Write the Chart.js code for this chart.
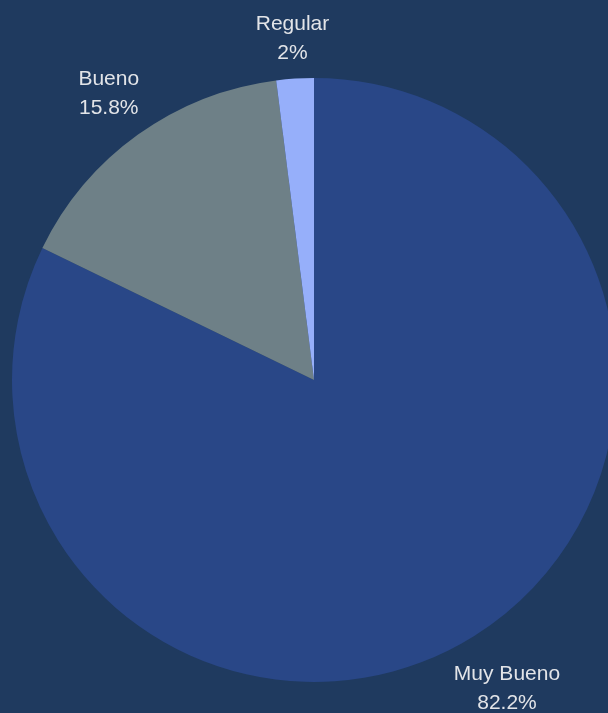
<!DOCTYPE html>
<html>
<head>
<meta charset="utf-8">
<script src="https://cdn.jsdelivr.net/npm/chart.js@4"></script>
<style>
  html, body { margin: 0; padding: 0; background: #1f3a5f; overflow: hidden; width: 608px; height: 713px; }
  canvas { display: block; }
</style>
</head>
<body>
<canvas id="pie-chart" width="628" height="713"></canvas>
<script>
// chart data
const labels = ["Muy Bueno", "Bueno", "Regular"];
const values = [82.2, 15.8, 2];
const colors = ["#294787", "#6e8087", "#96affa"];

// draws "label\nvalue%" outside each slice
const outsideLabels = {
  id: "outsideLabels",
  afterDatasetsDraw(chart) {
    const ctx = chart.ctx;
    const meta = chart.getDatasetMeta(0);
    ctx.save();
    ctx.font = "21px 'Liberation Sans', Arial, sans-serif";
    ctx.fillStyle = "#e2e4e8";
    ctx.textAlign = "center";
    ctx.textBaseline = "middle";
    const lineH = 29;
    meta.data.forEach((arc, i) => {
      const p = arc.getProps(["x", "y", "startAngle", "endAngle", "outerRadius"], true);
      const mid = (p.startAngle + p.endAngle) / 2;
      const dx = Math.cos(mid), dy = Math.sin(mid);
      const lines = [labels[i], values[i] + "%"];
      const w = Math.max(...lines.map(l => ctx.measureText(l).width));
      const h = lineH * 2;
      const r = p.outerRadius + 9 + Math.abs(dx) * w / 2 + Math.abs(dy) * h / 2;
      const cx = p.x + dx * r;
      const cy = p.y + dy * r;
      ctx.fillText(lines[0], cx, cy - lineH / 2);
      ctx.fillText(lines[1], cx, cy + lineH / 2);
    });
    ctx.restore();
  }
};

new Chart(document.getElementById("pie-chart").getContext("2d"), {
  type: "pie",
  data: {
    labels: labels,
    datasets: [{
      data: values,
      backgroundColor: colors,
      borderWidth: 0
    }]
  },
  options: {
    responsive: false,
    animation: false,
    layout: { padding: { top: 78, bottom: 31, left: 0, right: 0 } },
    plugins: {
      legend: { display: false },
      tooltip: { enabled: false }
    }
  },
  plugins: [outsideLabels]
});
</script>
</body>
</html>
